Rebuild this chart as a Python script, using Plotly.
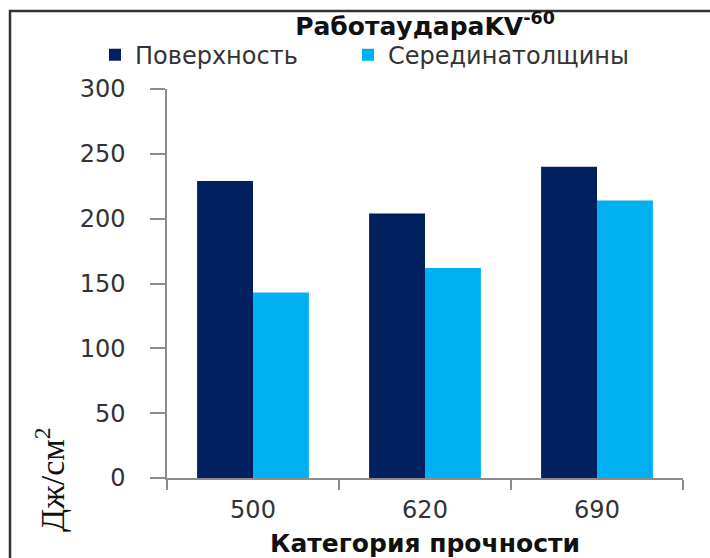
import plotly.graph_objects as go

# Impact energy KV-60 by strength category
categories = ["500", "620", "690"]
surface = [229, 204, 240]
mid_thickness = [143, 162, 214]
y_ticks = [0, 50, 100, 150, 200, 250, 300]

DARK = "#002060"
LIGHT = "#00B0F0"
AXIS = "#8c8c8c"
TEXT = "#333333"

fig = go.Figure()
fig.add_trace(go.Bar(x=categories, y=surface, name="Поверхность",
                     marker=dict(color=DARK, line=dict(width=0)),
                     legend="legend", showlegend=True))
fig.add_trace(go.Bar(x=categories, y=mid_thickness, name="Серединатолщины",
                     marker=dict(color=LIGHT, line=dict(width=0)),
                     legend="legend2", showlegend=True))

legend_style = dict(orientation="h", xanchor="left", yanchor="middle",
                    y=1.087, font=dict(size=24, color=TEXT),
                    bgcolor="rgba(0,0,0,0)")

fig.update_layout(
    width=710, height=558,
    showlegend=True,
    margin=dict(l=167, r=27, t=89, b=80),
    paper_bgcolor="white", plot_bgcolor="white",
    barmode="group", bargap=0.35, bargroupgap=0,
    font=dict(family="DejaVu Sans", color=TEXT, size=22),
    title=dict(text="<b>РаботаударaKV<sup>-60</sup></b>",
               x=0.5, xref="paper", xanchor="center",
               y=1 - 26 / 558, yref="container", yanchor="middle",
               font=dict(size=25, color="#111111")),
    legend=dict(x=(95 - 167) / 516, **legend_style),
    legend2=dict(x=(348 - 167) / 516, **legend_style),
    xaxis=dict(
        type="category", showgrid=False, automargin=False,
        showline=True, linecolor=AXIS, linewidth=1.5,
        ticks="outside", tickson="boundaries", ticklen=10,
        tickcolor=AXIS, tickwidth=1.5,
        tickfont=dict(size=24, color=TEXT),
        ticklabelstandoff=9,
        title=dict(text="<b>Категория прочности</b>",
                   font=dict(size=25, color="#111111"), standoff=13),
    ),
    yaxis=dict(
        range=[0, 300], tickvals=y_ticks, showgrid=False, zeroline=False,
        automargin=False,
        showline=True, linecolor=AXIS, linewidth=1.5,
        ticks="outside", ticklen=15, tickcolor=AXIS, tickwidth=1.5,
        tickfont=dict(size=24, color=TEXT),
        ticklabelstandoff=20,
    ),
)

# Unit label on the left
fig.add_annotation(text="Дж/см<sup>2</sup>", textangle=-90,
                   xref="paper", yref="paper",
                   x=(50 - 167) / 516, y=(478 - 480) / 389,
                   xanchor="center", yanchor="middle", showarrow=False,
                   font=dict(family="Liberation Serif", size=34, color="#111111"))

# Outer chart frame
fig.add_shape(type="rect", xref="paper", yref="paper",
              x0=(10 - 167) / 516, x1=1.2, y0=-0.5, y1=(478 - 11) / 389,
              line=dict(color="#333333", width=2.5), layer="below")

fig.write_html("out.html")
